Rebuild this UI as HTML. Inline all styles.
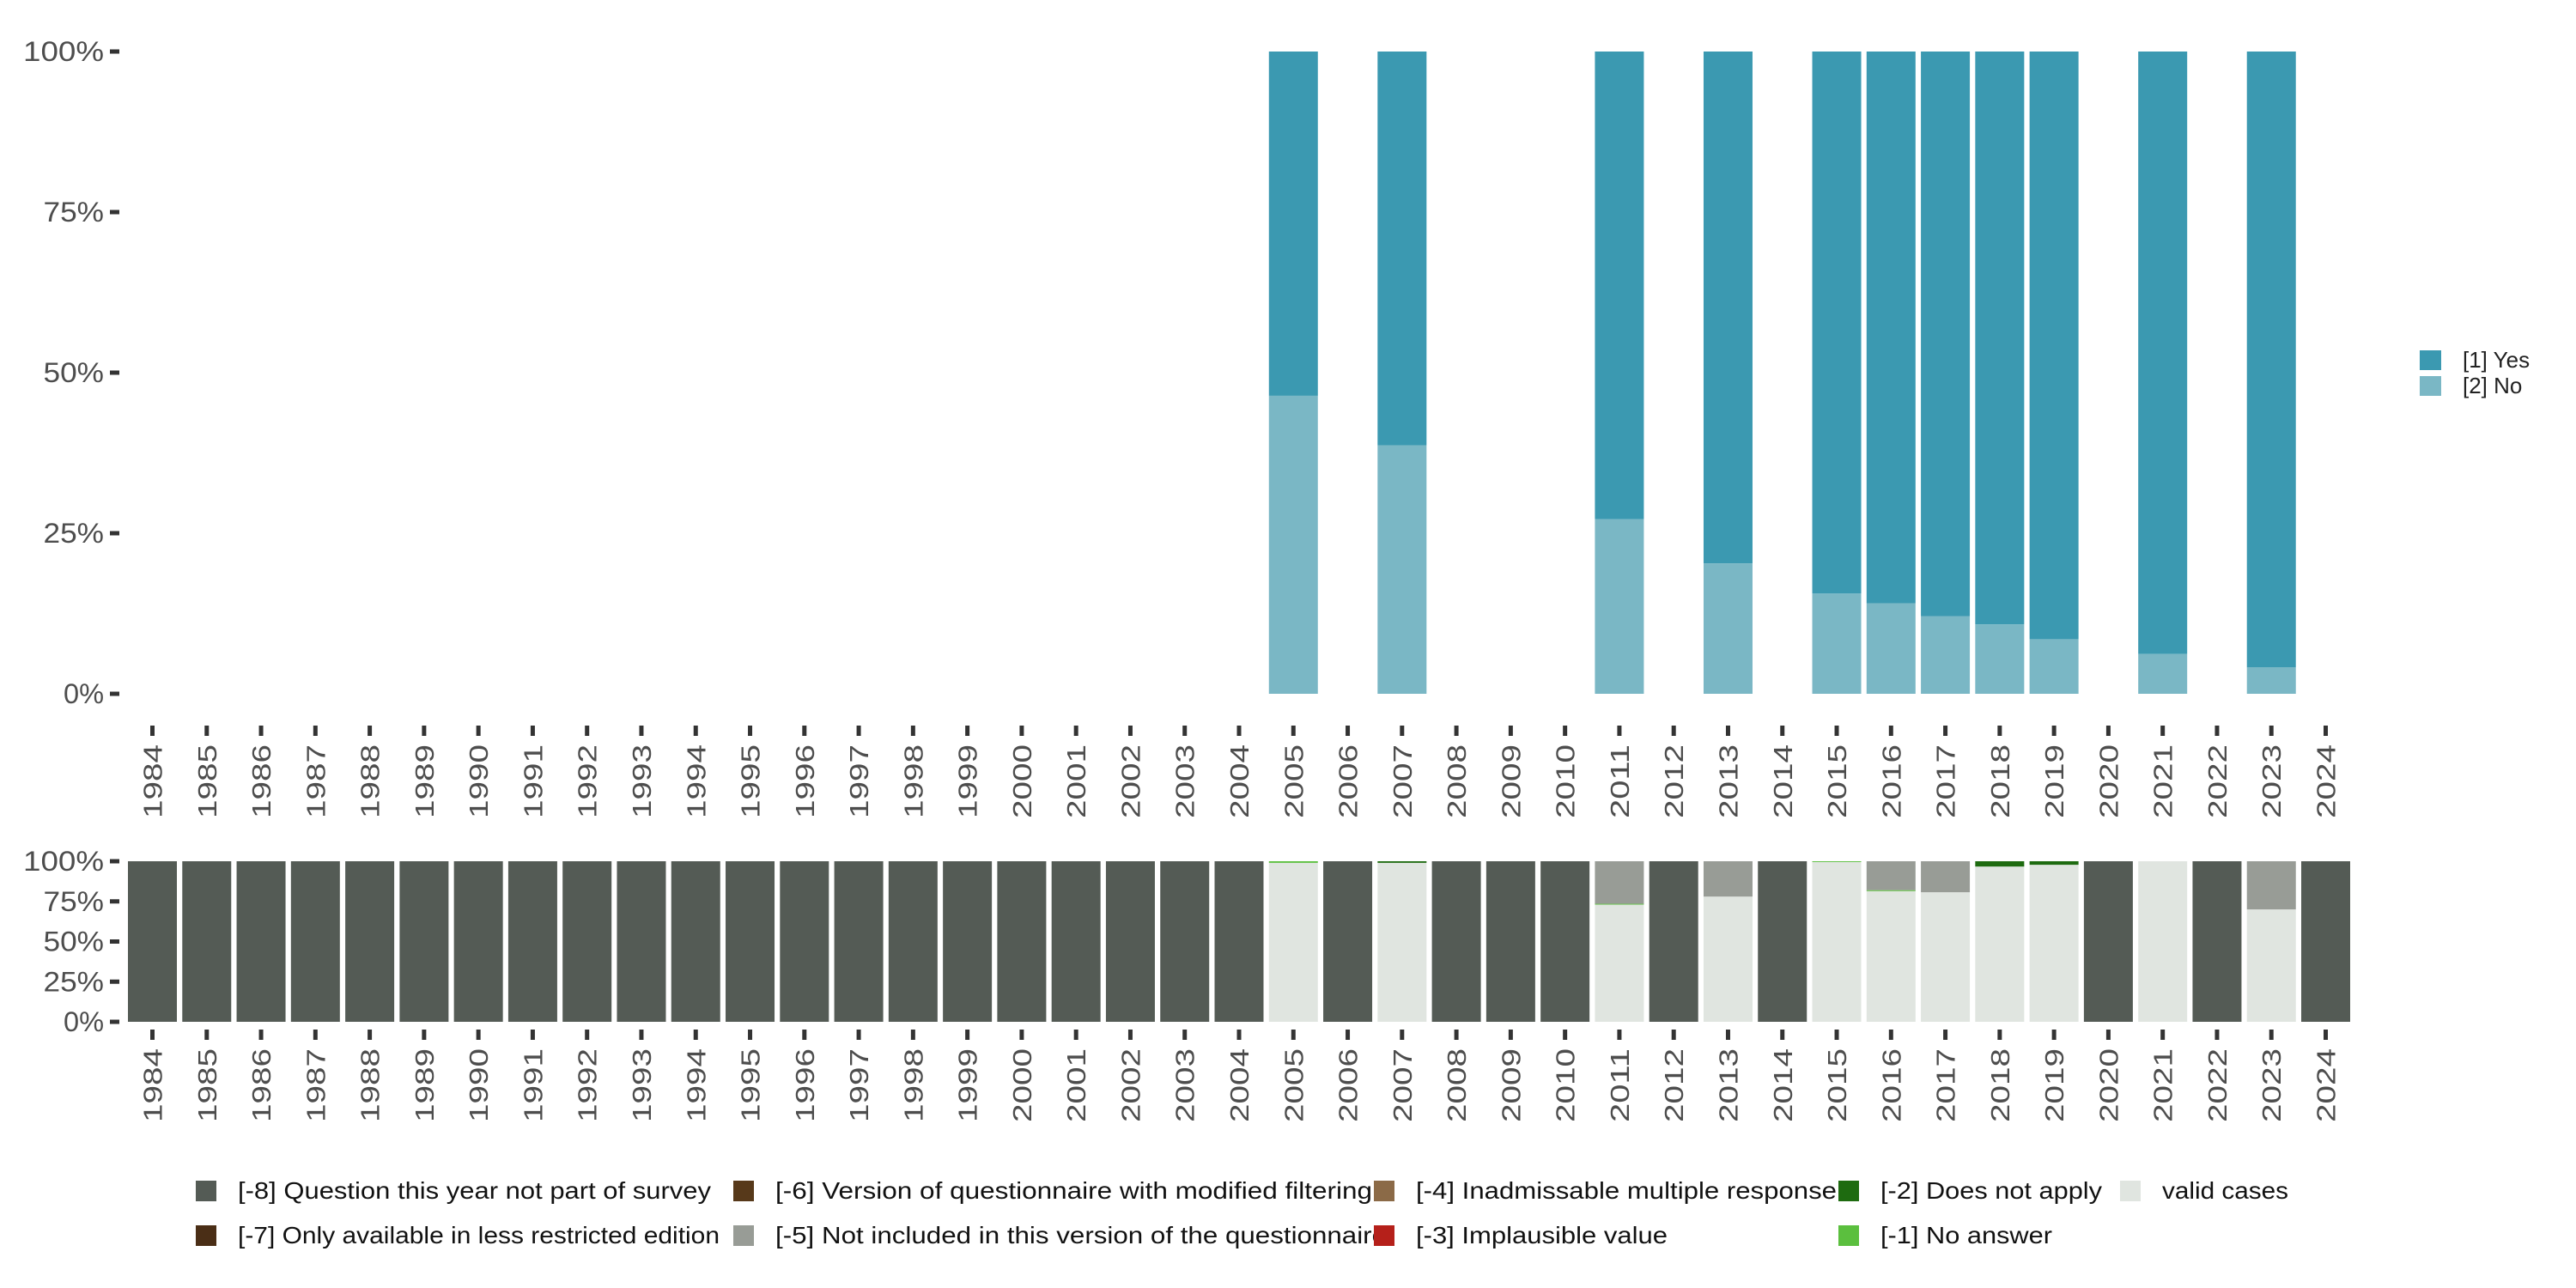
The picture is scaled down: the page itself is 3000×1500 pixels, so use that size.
<!DOCTYPE html>
<html><head><meta charset="utf-8"><style>
html,body{margin:0;padding:0;background:#fff;}
svg{display:block;font-family:"Liberation Sans",sans-serif;}
</style></head><body>
<svg id="chart" width="3000" height="1500" viewBox="0 0 3000 1500" xmlns="http://www.w3.org/2000/svg"></svg>
<script>
const years = [];
for (let y = 1984; y <= 2024; y++) years.push(y);
// Top panel: share answering "[2] No" (rest is "[1] Yes")
const noShare = {2005:46.4,2007:38.7,2011:27.2,2013:20.3,2015:15.6,2016:14.1,2017:12.1,2018:10.8,2019:8.5,2021:6.2,2023:4.1};
// Bottom panel categories (bottom-up stack order)
const missCats = ['valid','m1','m2','m3','m4','m5','m6','m7','m8'];
const validShare = {2005:99,2007:99,2011:73,2013:78,2015:99.5,2016:81.4,2017:80.7,2018:96.7,2019:97.8,2021:100,2023:70};
const m1Share = {2005:1,2011:0.5,2015:0.5,2016:0.6};
const m2Share = {2007:1,2018:3.3,2019:2.2};
const m5Share = {2011:26.5,2013:22,2016:18,2017:19.3,2023:30};
const yTicks = [0,25,50,75,100];
const yTickLabels = ['0%','25%','50%','75%','100%'];

const colors = {yes:'#3b99b1',no:'#7ab7c5',valid:'#e0e5e0',m1:'#5bbf3e',m2:'#1e6b10',m3:'#b5201a',m4:'#8b6a47',m5:'#989c96',m6:'#57391a',m7:'#4a2e16',m8:'#545b55'};
const svg = document.getElementById('chart');
const NS = 'http://www.w3.org/2000/svg';
function mk(tag, attrs, parent){const e=document.createElementNS(NS,tag);for(const k in attrs)e.setAttribute(k,attrs[k]);(parent||svg).appendChild(e);return e;}
const xC = y => 177.5 + (y-1984)*63.275;
const BW = 57;
const topY = v => 808 - v/100*748;
const botY = v => 1190 - v/100*187;

function axes(yf, g, tickTop){
  yTicks.forEach((t,i)=>{
    const l = mk('line',{x1:128,x2:139,y1:yf(t),y2:yf(t),stroke:'#333','stroke-width':5},g);
    
    
    const tx = mk('text',{x:121,y:yf(t)+11,'text-anchor':'end','font-size':32,fill:'#4d4d4d',textLength:yTickLabels[i].length*23.5,lengthAdjust:'spacingAndGlyphs'},g);
    tx.textContent = yTickLabels[i];
    
    
  });
  years.forEach(y=>{
    const l = mk('line',{x1:xC(y),x2:xC(y),y1:tickTop,y2:tickTop+12,stroke:'#333','stroke-width':5},g);
    
    
    const tx = mk('text',{transform:`translate(${xC(y)+11},${tickTop+22}) rotate(-90)`,'text-anchor':'end','font-size':31,fill:'#4d4d4d',textLength:86,lengthAdjust:'spacingAndGlyphs'},g);
    tx.textContent = y;
    
    
  });
}

// top panel
const gTop = mk('g',{});


axes(topY, gTop, 845);
years.forEach(y=>{
  if (noShare[y]===undefined) return;
  const n = noShare[y];
  const r1 = mk('rect',{x:xC(y)-BW/2,y:topY(100),width:BW,height:topY(n)-topY(100),fill:colors.yes},gTop);
  
  
  const r2 = mk('rect',{x:xC(y)-BW/2,y:topY(n),width:BW,height:topY(0)-topY(n),fill:colors.no},gTop);
  
  
});

// bottom panel
const gBot = mk('g',{});


axes(botY, gBot, 1199);
years.forEach(y=>{
  const vals = {valid:validShare[y]||0,m1:m1Share[y]||0,m2:m2Share[y]||0,m3:0,m4:0,m5:m5Share[y]||0,m6:0,m7:0,m8:0};
  const tot = missCats.reduce((s,c)=>s+vals[c],0);
  if (tot===0) vals.m8 = 100;
  let acc = 0;
  missCats.forEach(c=>{
    const v = vals[c]; if (!v) return;
    const r = mk('rect',{x:xC(y)-BW/2,y:botY(acc+v),width:BW,height:botY(acc)-botY(acc+v),fill:colors[c]},gBot);
    
    
    acc += v;
  });
});

// right legend
const legR = [['yes','[1] Yes',408],['no','[2] No',438]];
legR.forEach(([k,t,y])=>{
  const r = mk('rect',{x:2818,y:y,width:25,height:23,fill:colors[k]});
  
  
  const tx = mk('text',{x:2868,y:y+20,'font-size':26,fill:'#222'});
  tx.textContent = t;
  
  
});

// bottom legend
const legB = [
 ['m8','[-8] Question this year not part of survey',228,1375,551],
 ['m7','[-7] Only available in less restricted edition',228,1427,561],
 ['m6','[-6] Version of questionnaire with modified filtering',854,1375,695],
 ['m5','[-5] Not included in this version of the questionnaire',854,1427,712],
 ['m4','[-4] Inadmissable multiple response',1600,1375,490],
 ['m3','[-3] Implausible value',1600,1427,293],
 ['m2','[-2] Does not apply',2141,1375,258],
 ['m1','[-1] No answer',2141,1427,200],
 ['valid','valid cases',2469,1375,147]
];
legB.forEach(([k,t,x,y,w])=>{
  const r = mk('rect',{x:x,y:y,width:24,height:24,fill:colors[k]});
  
  
  const tx = mk('text',{x:x+49,y:y+21,'font-size':28,fill:'#111',textLength:w,lengthAdjust:'spacingAndGlyphs'});
  tx.textContent = t;
  
  
});
</script>
</body></html>
